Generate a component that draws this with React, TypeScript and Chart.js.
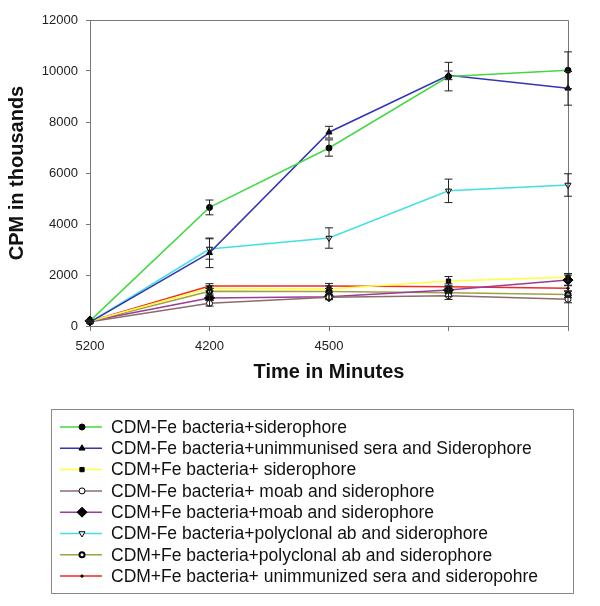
import React, { useEffect, useRef } from 'react';
import { Chart, registerables } from 'chart.js';
import { drawPoint } from 'chart.js/helpers';

Chart.register(...registerables);

// valeurs (CPM en milliers)
const timeLabels = ['5200', '4200', '4500', '', ''];
const yTicks = [0, 2000, 4000, 6000, 8000, 10000, 12000];

const minusFeSidero = [200, 4650, 6980, 9780, 10030];
const minusFeSideroErr = [30, 290, 320, 560, 720];
const minusFeUnimm = [150, 2870, 7600, 9830, 9320];
const minusFeUnimmErr = [30, 580, 230, 170, 660];
const plusFeSidero = [190, 1480, 1450, 1760, 1910];
const plusFeSideroErr = [30, 100, 120, 180, 150];
const minusFeMoab = [170, 890, 1130, 1190, 1050];
const minusFeMoabErr = [30, 110, 100, 150, 140];
const plusFeMoab = [200, 1100, 1150, 1410, 1800];
const plusFeMoabErr = [30, 100, 100, 120, 200];
const minusFePoly = [150, 3020, 3450, 5300, 5530];
const minusFePolyErr = [30, 400, 400, 460, 440];
const plusFePoly = [180, 1360, 1350, 1300, 1240];
const plusFePolyErr = [30, 110, 120, 140, 120];
const plusFeUnimm = [190, 1570, 1570, 1540, 1480];
const plusFeUnimmErr = [30, 90, 100, 110, 100];

const FONT = "Arial, 'Liberation Sans', sans-serif";

const errorBars = {
    id: 'errorBars',
    afterDatasetsDraw(chart: any) {
        const { ctx } = chart;
        const y = chart.scales.y;
        ctx.save();
        ctx.strokeStyle = '#222';
        ctx.lineWidth = 1;
        chart.data.datasets.forEach((ds: any, i: number) => {
            const meta = chart.getDatasetMeta(i);
            meta.data.forEach((pt: any, j: number) => {
                const v = ds.data[j];
                const e = ds.errors[j];
                const top = y.getPixelForValue(v + e);
                const bot = y.getPixelForValue(v - e);
                ctx.beginPath();
                ctx.moveTo(pt.x, top);
                ctx.lineTo(pt.x, bot);
                ctx.moveTo(pt.x - 4, top);
                ctx.lineTo(pt.x + 4, top);
                ctx.moveTo(pt.x - 4, bot);
                ctx.lineTo(pt.x + 4, bot);
                ctx.stroke();
            });
        });
        ctx.restore();
    },
};

// cadre haut/droite + légende encadrée
const frameAndLegend = {
    id: 'frameAndLegend',
    beforeDatasetsDraw(chart: any) {
        const { ctx, chartArea } = chart;
        ctx.save();
        ctx.strokeStyle = '#777';
        ctx.lineWidth = 1;
        ctx.beginPath();
        ctx.moveTo(chartArea.left, chartArea.top + 0.5);
        ctx.lineTo(chartArea.right + 0.5, chartArea.top + 0.5);
        ctx.lineTo(chartArea.right + 0.5, chartArea.bottom + 5);
        ctx.stroke();
        ctx.restore();
    },
    afterDraw(chart: any) {
        const { ctx } = chart;
        ctx.save();
        ctx.strokeStyle = '#888';
        ctx.lineWidth = 1;
        ctx.strokeRect(51.5, 409.5, 522, 184);
        ctx.font = `17.5px ${FONT}`;
        ctx.textBaseline = 'middle';
        chart.data.datasets.forEach((ds: any, i: number) => {
            const cy = 427 + i * 21.3;
            ctx.strokeStyle = ds.borderColor;
            ctx.lineWidth = 1.5;
            ctx.beginPath();
            ctx.moveTo(60, cy);
            ctx.lineTo(102, cy);
            ctx.stroke();
            ctx.fillStyle = ds.pointBackgroundColor;
            ctx.strokeStyle = ds.pointBorderColor;
            ctx.lineWidth = ds.pointBorderWidth;
            drawPoint(ctx, {
                pointStyle: ds.pointStyle,
                rotation: ds.pointRotation || 0,
                radius: ds.pointRadius,
                borderWidth: ds.pointBorderWidth,
            }, 82, cy);
            ctx.fillStyle = '#111';
            ctx.fillText(ds.label, 111, cy + 1);
        });
        ctx.restore();
    },
};

const App: React.FC = () => {
    const canvasRef = useRef<HTMLCanvasElement | null>(null);
    const chartRef = useRef<Chart | null>(null);

    useEffect(() => {
        document.body.style.margin = '0';
        if (!canvasRef.current) return;
        if (chartRef.current) chartRef.current.destroy();

        const line = (label: string, data: number[], errors: number[], color: string,
            pointStyle: string, radius: number, fill: string, extra: any = {}) => ({
            label, data, errors,
            borderColor: color,
            borderWidth: 1.5,
            pointStyle,
            pointRadius: radius,
            pointHoverRadius: radius,
            pointBackgroundColor: fill,
            pointBorderColor: '#000',
            pointBorderWidth: 1,
            tension: 0,
            ...extra,
        });

        chartRef.current = new Chart(canvasRef.current, {
            type: 'line',
            data: {
                labels: timeLabels,
                datasets: [
                    line('CDM-Fe bacteria+siderophore', minusFeSidero, minusFeSideroErr, '#44d844', 'circle', 3, '#000'),
                    line('CDM-Fe bacteria+unimmunised sera and Siderophore', minusFeUnimm, minusFeUnimmErr, '#3434b4', 'triangle', 3.5, '#000'),
                    line('CDM+Fe bacteria+ siderophore', plusFeSidero, plusFeSideroErr, '#ffff3c', 'rect', 3, '#000'),
                    line('CDM-Fe bacteria+ moab and siderophore', minusFeMoab, minusFeMoabErr, '#8c6c6c', 'circle', 3, '#fff'),
                    line('CDM+Fe bacteria+moab and siderophore', plusFeMoab, plusFeMoabErr, '#9a3c9a', 'rectRot', 5, '#000'),
                    line('CDM-Fe bacteria+polyclonal ab and siderophore', minusFePoly, minusFePolyErr, '#44e0e0', 'triangle', 3.5, '#fff', { pointRotation: 180 }),
                    line('CDM+Fe bacteria+polyclonal ab and siderophore', plusFePoly, plusFePolyErr, '#a0a044', 'circle', 2.5, '#fff', { pointBorderWidth: 2 }),
                    line('CDM+Fe bacteria+ unimmunized sera and sideropohre', plusFeUnimm, plusFeUnimmErr, '#ee2a2a', 'circle', 1.2, '#000'),
                ],
            },
            options: {
                responsive: false,
                animation: false,
                layout: { padding: { left: 0, top: 20, right: 32, bottom: 220 } },
                plugins: { legend: { display: false }, tooltip: { enabled: false } },
                scales: {
                    x: {
                        offset: false,
                        afterFit: (s: any) => { s.height = 60; },
                        grid: { drawOnChartArea: false, drawTicks: true, tickLength: 5, color: '#777' },
                        border: { display: true, color: '#777' },
                        ticks: { color: '#222', padding: 8, maxRotation: 0, autoSkip: false, font: { family: FONT, size: 13 } },
                        title: {
                            display: true, text: 'Time in Minutes', color: '#111',
                            padding: { top: 0, bottom: 2 },
                            font: { family: FONT, size: 20, weight: 'bold' },
                        },
                    },
                    y: {
                        min: 0, max: 12000,
                        afterFit: (s: any) => { s.width = 90; },
                        afterBuildTicks: (s: any) => { s.ticks = yTicks.map(v => ({ value: v })); },
                        grid: { drawOnChartArea: false, drawTicks: true, tickLength: 4, color: '#777' },
                        border: { display: true, color: '#777' },
                        ticks: {
                            color: '#222', padding: 8, font: { family: FONT, size: 13 },
                            callback: (v: any) => String(v),
                        },
                        title: {
                            display: true, text: 'CPM in thousands', color: '#111',
                            padding: { top: 5, bottom: 0 },
                            font: { family: FONT, size: 20, weight: 'bold' },
                        },
                    },
                },
            },
            plugins: [errorBars, frameAndLegend],
        } as any);

        return () => {
            if (chartRef.current) {
                chartRef.current.destroy();
                chartRef.current = null;
            }
        };
    }, []);

    return <canvas ref={canvasRef} width={600} height={606}></canvas>;
};

export default App;
